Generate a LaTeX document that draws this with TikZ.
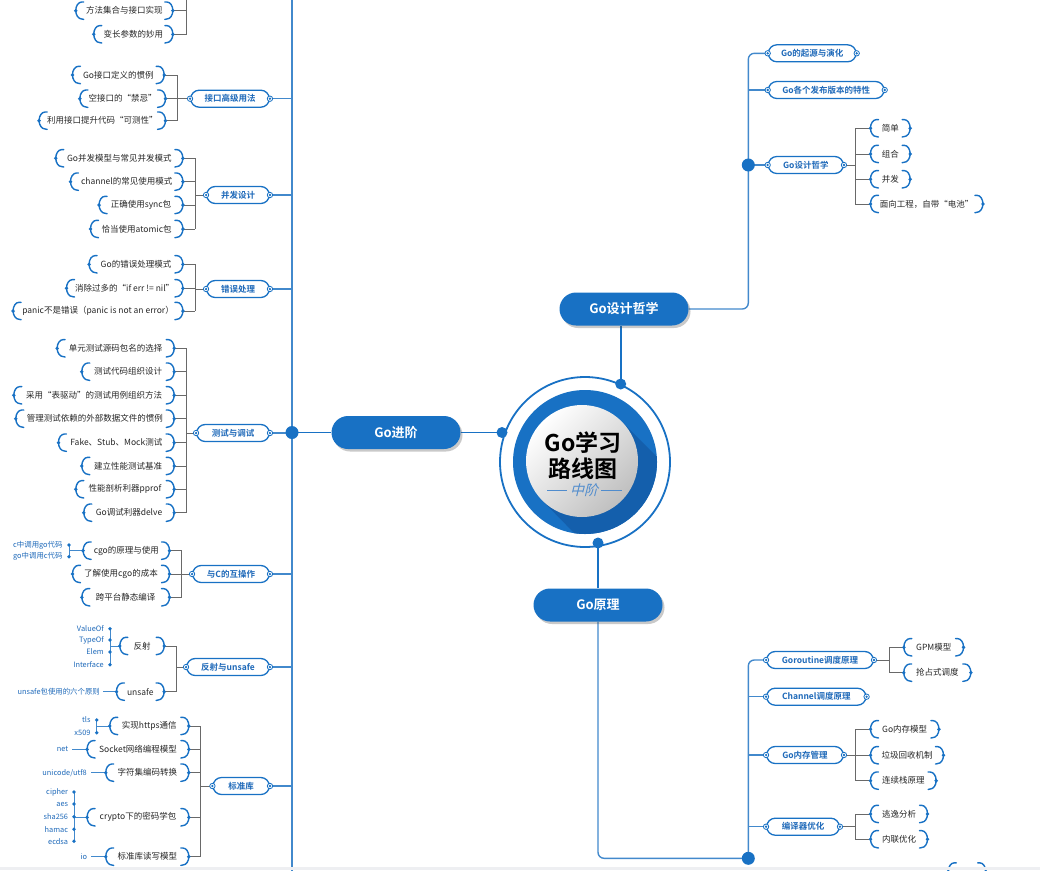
\documentclass[tikz,border=0pt]{standalone}
\usepackage{fontspec}
\setmainfont{Noto Sans CJK SC}[BoldFont={Noto Sans CJK SC Bold}]
\newfontfamily\slfont{Noto Sans CJK SC}[FakeSlant=0.25]
\usetikzlibrary{shadows,calc}
\definecolor{mblue}{RGB}{24,113,196}
\definecolor{sblue}{RGB}{66,137,204}
\definecolor{dblue}{RGB}{20,95,172}
\definecolor{tblue}{RGB}{30,105,185}
\definecolor{lblue}{RGB}{80,140,205}
\definecolor{gline}{RGB}{105,105,105}
\definecolor{foot}{RGB}{238,239,242}
\pgfdeclarelayer{bg}
\pgfsetlayers{bg,main}
\tikzset{
 leaf/.style={inner xsep=1pt, inner ysep=0pt, minimum height=17pt, font=\fontsize{8.5}{10}\selectfont, text=black!85},
 cat/.style={draw=mblue, line width=1.3pt, fill=white, rounded corners=8.5pt, minimum height=17pt, inner xsep=1pt, inner ysep=0pt, font=\bfseries\fontsize{8.5}{10}\selectfont, text=tblue},
 mainbox/.style={fill=mblue, rounded corners=16.5pt, minimum height=33pt, minimum width=129pt, font=\bfseries\fontsize{13}{15}\selectfont, text=white, drop shadow={shadow xshift=2pt, shadow yshift=-2.5pt, opacity=0.3, fill=black!70}},
 brk/.style={draw=mblue, line width=1.4pt, line cap=round},
 sline/.style={draw=sblue, line width=1.4pt},
 cline/.style={draw=mblue, line width=1.8pt},
 gl/.style={draw=gline, line width=0.9pt},
 bl/.style={draw=sblue, line width=0.9pt},
 subl/.style={font=\fontsize{7.4}{8}\selectfont, text=tblue, inner sep=0pt, anchor=east},
}
\newcommand\lf[5]{%
 \node[leaf, minimum width=#4pt] (#1) at (#2,#3) {#5};
 \draw[brk] ([xshift=8pt]#1.north west) -- ([xshift=6pt]#1.north west) arc[start angle=90, end angle=270, x radius=6pt, y radius=8.5pt] -- ([xshift=8pt]#1.south west);
 \draw[brk] ([xshift=-8pt]#1.north east) -- ([xshift=-6pt]#1.north east) arc[start angle=90, end angle=-90, x radius=6pt, y radius=8.5pt] -- ([xshift=-8pt]#1.south east);
 \fill[mblue] (#1.west) circle (1.9pt) (#1.east) circle (1.9pt);
}
\newcommand\ct[5]{%
 \node[cat, minimum width=#4pt] (#1) at (#2,#3) {#5};
 \filldraw[fill=white, draw=mblue, line width=0.8pt] (#1.west) circle (2.7pt) (#1.east) circle (2.7pt);
 \fill[mblue] (#1.west) circle (1.3pt) (#1.east) circle (1.3pt);
}
\begin{document}
\begin{tikzpicture}[x=1pt,y=-1pt]
\useasboundingbox (0,0) rectangle (1040,870);
% coordinates
\coordinate (lsp) at (292,0);
\coordinate (lspT) at (292,-5);
\coordinate (lspB) at (292,875);
\coordinate (rs) at (748.3,0);
\coordinate (bd) at (0,858.3);
% ===== left leaves and categories =====
\lf{g0a}{124.3}{10.7}{96.7}{方法集合与接口实现}
\lf{g0b}{133.3}{34.3}{78.7}{变长参数的妙用}
\ct{k1}{230}{98.7}{78.6}{接口高级用法}
\lf{g1a}{118.3}{75}{91.3}{Go接口定义的惯例}
\lf{g1b}{122.7}{98.7}{85.3}{空接口的“禁忌”}
\lf{g1c}{102.3}{120.7}{126}{利用接口提升代码“可测性”}
\ct{k2}{238}{195}{62.6}{并发设计}
\lf{g2a}{119.3}{158.3}{126.7}{Go并发模型与常见并发模式}
\lf{g2b}{126.7}{181.7}{112}{channel的常见使用模式}
\lf{g2c}{141}{205}{83.4}{正确使用sync包}
\lf{g2d}{136.7}{229}{92}{恰当使用atomic包}
\ct{k3}{238}{289}{62.6}{错误处理}
\lf{g3a}{136}{264.3}{93.4}{Go的错误处理模式}
\lf{g3b}{124.7}{288.3}{116}{消除过多的“if err != nil”}
\lf{g3c}{98}{311}{169.4}{panic不是错误（panic is not an error）}
\ct{k4}{233}{433}{72.6}{测试与调试}
\lf{g4a}{115.7}{348.3}{116.7}{单元测试源码包名的选择}
\lf{g4b}{128}{371.7}{92}{测试代码组织设计}
\lf{g4c}{94}{395.3}{160}{采用“表驱动”的测试用例组织方法}
\lf{g4d}{95}{418.7}{158}{管理测试依赖的外部数据文件的惯例}
\lf{g4e}{116.3}{442.7}{115.3}{Fake、Stub、Mock测试}
\lf{g4f}{128}{466}{92}{建立性能测试基准}
\lf{g4g}{125}{489.3}{98}{性能剖析利器pprof}
\lf{g4h}{129}{512.7}{90}{Go调试利器delve}
\ct{k5}{231}{574}{76.6}{与C的互操作}
\lf{g5a}{126.3}{550.7}{86}{cgo的原理与使用}
\lf{g5b}{121}{574}{96.6}{了解使用cgo的成本}
\lf{g5c}{125.7}{597.3}{87.3}{跨平台静态编译}
\ct{k6}{228}{667}{82.6}{反射与unsafe}
\lf{g6a}{142}{646}{44}{反射}
\lf{g6b}{140.3}{691.7}{47.3}{unsafe}
\ct{k7}{241.2}{786}{56.3}{标准库}
\lf{g7a}{149.3}{726}{78.7}{实现https通信}
\lf{g7b}{138}{749.3}{101.4}{Socket网络编程模型}
\lf{g7c}{147.3}{772.7}{82.7}{字符集编码转换}
\lf{g7d}{138}{817.3}{101.4}{crypto下的密码学包}
\lf{g7e}{147.3}{856.7}{82.7}{标准库读写模型}
% sub labels
\node[subl] (s5a) at (62.7,545) {c中调用go代码};
\node[subl] (s5b) at (62.7,556.7) {go中调用c代码};
\node[subl] (s6a) at (104,628.7) {ValueOf};
\node[subl] (s6b) at (104,640) {TypeOf};
\node[subl] (s6c) at (104,652) {Elem};
\node[subl] (s6d) at (104,664.7) {Interface};
\node[subl] (s6e) at (100,691.7) {unsafe包使用的六个原则};
\node[subl] (s7a) at (90.7,720) {tls};
\node[subl] (s7b) at (90.7,732.7) {x509};
\node[subl] (s7c) at (68.3,749.3) {net};
\node[subl] (s7d) at (87,772.7) {unicode/utf8};
\node[subl] (s7e) at (68.3,792) {cipher};
\node[subl] (s7f) at (68.3,804) {aes};
\node[subl] (s7g) at (68.3,816.7) {sha256};
\node[subl] (s7h) at (68.3,829.3) {hamac};
\node[subl] (s7i) at (68.3,841.3) {ecdsa};
\node[subl] (s7j) at (87.3,856.7) {io};
\coordinate (sd5) at (69,0);
\coordinate (sd6) at (110,0);
\coordinate (sd7a) at (96.7,0);
\coordinate (sd7d) at (74,0);
% ===== right top =====
\ct{r1}{812.2}{53.3}{87.7}{Go的起源与演化}
\ct{r2}{826.2}{90}{115.7}{Go各个发布版本的特性}
\ct{r3}{805.8}{165}{75}{Go设计哲学}
\lf{r3a}{890.3}{128.3}{39.3}{简单}
\lf{r3b}{890.3}{154}{39.3}{组合}
\lf{r3c}{890.3}{179.3}{39.3}{并发}
\lf{r3d}{926.7}{204}{112}{面向工程，自带“电池”}
% ===== right bottom =====
\ct{q1}{820}{660}{106.6}{Goroutine调度原理}
\ct{q2}{816.3}{696.7}{99.3}{Channel调度原理}
\ct{q3}{805}{755}{76.6}{Go内存管理}
\ct{q4}{803}{826.7}{72.6}{编译器优化}
\lf{q1a}{933.7}{647.3}{59.3}{GPM模型}
\lf{q1b}{937.3}{672.7}{66.7}{抢占式调度}
\lf{q3a}{904.7}{729.3}{68}{Go内存模型}
\lf{q3b}{907}{755.3}{72.6}{垃圾回收机制}
\lf{q3c}{903.3}{780.7}{65.3}{连续栈原理}
\lf{q4a}{899}{814}{56.6}{逃逸分析}
\lf{q4b}{899}{839.3}{56.6}{内联优化}
\lf{qx}{967}{871.5}{37}{}
\coordinate (rb1) at (855,0);
\coordinate (rb2) at (889.3,0);
% ===== center =====
\coordinate (cc) at (585,462);
\filldraw[fill=white, draw=mblue, line width=1.8pt] (cc) circle (85pt);
\fill[mblue] (cc) circle (72pt);
\begin{scope}
\clip (cc) circle (72pt);
\fill[dblue] (542.4,500.6) -- (621.6,421.4) -- (700,500) -- (620,580) -- cycle;
\end{scope}
\shade[top color=white, bottom color=black!25, shading angle=45] (582,461) circle (56pt);
\node[font=\bfseries\fontsize{23}{25}\selectfont, inner sep=0pt] (t1) at (583,443) {Go学习};
\node[font=\bfseries\fontsize{23}{25}\selectfont, inner sep=0pt] (t2) at (583,469) {路线图};
\node[font=\slfont\fontsize{14}{16}\selectfont, text=lblue, inner sep=0pt] (t3) at (584,490) {中阶};
\draw[lblue, line width=0.9pt] ([xshift=-3pt]t3.west) -- ++(-20pt,0);
\draw[lblue, line width=0.9pt] ([xshift=3pt]t3.east) -- ++(21pt,0);
\coordinate (dA) at (620.7,384);
\coordinate (dB) at (502,432.5);
\coordinate (dC) at (598,543);
\fill[mblue] (dA) circle (5.5pt) (dB) circle (5.5pt) (dC) circle (5.5pt);
% main nodes
\node[mainbox] (mA) at (624,309) {Go设计哲学};
\node[mainbox] (mB) at (396,432.5) {Go进阶};
\node[mainbox] (mC) at (598,605) {Go原理};
% big dots
\fill[mblue] (mB.west -| lsp) circle (6.5pt);
\fill[mblue] (r3.west -| rs) circle (6.5pt);
\fill[mblue] (rs |- bd) circle (6.5pt);
% ===== connectors =====
\begin{pgfonlayer}{bg}
\draw[sline] (lspT) -- (lspB);
\draw[cline] (mA.south -| dA) -- (dA);
\draw[cline] (mB.east) -- (dB);
\draw[cline] (mC.north) -- (dC);
\draw[cline] (mB.west) -- (mB.west -| lsp);
\foreach \k in {k1,k2,k3,k4,k5,k6,k7} \draw[sline] (\k.east) -- (\k.east -| lsp);
% group 0
\coordinate (b0) at (186.7,0);
\coordinate (b0t) at (186.7,-10);
\foreach \l in {g0a,g0b} \draw[gl] (\l.east) -- (\l.east -| b0);
\draw[gl] (b0t) -- (g0b.east -| b0);
% group 1
\coordinate (b1) at (177.3,0);
\foreach \l in {g1a,g1b,g1c} \draw[gl] (\l.east) -- (\l.east -| b1);
\draw[gl] (g1a.east -| b1) -- (g1c.east -| b1);
\draw[gl] (k1.west -| b1) -- (k1.west);
% group 2
\coordinate (b2) at (195,0);
\foreach \l in {g2a,g2b,g2c,g2d} \draw[gl] (\l.east) -- (\l.east -| b2);
\draw[gl] (g2a.east -| b2) -- (g2d.east -| b2);
\draw[gl] (k2.west -| b2) -- (k2.west);
% group 3
\foreach \l in {g3a,g3b,g3c} \draw[gl] (\l.east) -- (\l.east -| b2);
\draw[gl] (g3a.east -| b2) -- (g3c.east -| b2);
\draw[gl] (k3.west -| b2) -- (k3.west);
% group 4
\coordinate (b4) at (186.7,0);
\foreach \l in {g4a,g4b,g4c,g4d,g4e,g4f,g4g,g4h} \draw[gl] (\l.east) -- (\l.east -| b4);
\draw[gl] (g4a.east -| b4) -- (g4h.east -| b4);
\draw[gl] (k4.west -| b4) -- (k4.west);
% group 5
\coordinate (b5) at (181.7,0);
\foreach \l in {g5a,g5b,g5c} \draw[gl] (\l.east) -- (\l.east -| b5);
\draw[gl] (g5a.east -| b5) -- (g5c.east -| b5);
\draw[gl] (k5.west -| b5) -- (k5.west);
% group 6
\coordinate (b6) at (176,0);
\foreach \l in {g6a,g6b} \draw[gl] (\l.east) -- (\l.east -| b6);
\draw[gl] (g6a.east -| b6) -- (g6b.east -| b6);
\draw[gl] (k6.west -| b6) -- (k6.west);
% group 7
\coordinate (b7) at (200.7,0);
\foreach \l in {g7a,g7b,g7c,g7d,g7e} \draw[gl] (\l.east) -- (\l.east -| b7);
\draw[gl] (g7a.east -| b7) -- (g7e.east -| b7);
\draw[gl] (k7.west -| b7) -- (k7.west);
% sub label lines
\draw[bl] (s5a.east -| sd5) -- (s5b.east -| sd5);
\draw[bl] (g5a.west -| sd5) -- (g5a.west);
\draw[bl] (s6a.east -| sd6) -- (s6d.east -| sd6);
\draw[bl] (g6a.west -| sd6) -- (g6a.west);
\draw[bl] ([xshift=3pt]s6e.east) -- (g6b.west);
\draw[bl] (s7a.east -| sd7a) -- (s7b.east -| sd7a);
\draw[bl] (g7a.west -| sd7a) -- (g7a.west);
\draw[bl] ([xshift=4pt]s7c.east) -- (g7b.west);
\draw[bl] ([xshift=4pt]s7d.east) -- (g7c.west);
\draw[bl] (s7e.east -| sd7d) -- (s7i.east -| sd7d);
\draw[bl] (g7d.west -| sd7d) -- (g7d.west);
\draw[bl] ([xshift=4pt]s7j.east) -- (g7e.west);
% right top
\draw[sline, rounded corners=6pt] (mA.east) -| (rs |- r1.west) -- (r1.west);
\draw[sline] (r2.west -| rs) -- (r2.west);
\draw[sline] (r3.west -| rs) -- (r3.west);
\draw[gl] (r3.east) -- (r3.east -| rb1);
\foreach \l in {r3a,r3b,r3c,r3d} \draw[gl] (\l.west -| rb1) -- (\l.west);
\draw[gl] (r3a.west -| rb1) -- (r3d.west -| rb1);
% right bottom
\draw[sline, rounded corners=6pt] (mC.south) |- (rs |- bd) |- (q1.west);
\foreach \q in {q2,q3,q4} \draw[sline] (\q.west -| rs) -- (\q.west);
\draw[gl] (q1.east) -- (q1.east -| rb2);
\foreach \l in {q1a,q1b} \draw[gl] (\l.west -| rb2) -- (\l.west);
\draw[gl] (q1a.west -| rb2) -- (q1b.west -| rb2);
\draw[gl] (q3.east) -- (q3.east -| rb1);
\foreach \l in {q3a,q3b,q3c} \draw[gl] (\l.west -| rb1) -- (\l.west);
\draw[gl] (q3a.west -| rb1) -- (q3c.west -| rb1);
\draw[gl] (q4.east) -- (q4.east -| rb1);
\foreach \l in {q4a,q4b} \draw[gl] (\l.west -| rb1) -- (\l.west);
\draw[gl] (q4a.west -| rb1) -- (q4b.west -| rb1);
\end{pgfonlayer}
% sub label dots
\fill[mblue] (s5a.east -| sd5) circle (1.9pt) (s5b.east -| sd5) circle (1.9pt);
\foreach \s in {s6a,s6b,s6c,s6d} \fill[mblue] (\s.east -| sd6) circle (1.9pt);
\foreach \s in {s7a,s7b} \fill[mblue] (\s.east -| sd7a) circle (1.9pt);
\foreach \s in {s7e,s7f,s7g,s7h,s7i} \fill[mblue] (\s.east -| sd7d) circle (1.9pt);
% footer strip
\fill[foot] (0,866.7) rectangle (1040,870);
\end{tikzpicture}
\end{document}
